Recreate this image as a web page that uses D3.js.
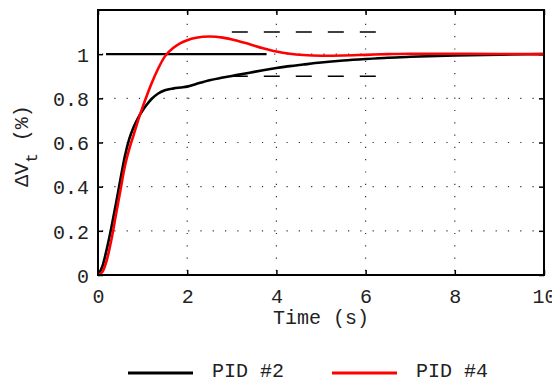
<!DOCTYPE html>
<html><head><meta charset="utf-8">
<script src="https://cdn.jsdelivr.net/npm/d3@7"></script>
<style>body{margin:0;background:#fff}svg{display:block}text{font-family:"Liberation Mono","Courier New",monospace;fill:#222}</style>
</head><body>
<svg id="c" width="552" height="381"></svg>
<script>
const time = [0,0.1,0.2,0.3,0.4,0.5,0.6,0.7,0.8,0.9,1.0,1.1,1.2,1.35,1.5,1.7,1.85,2.0,2.2,2.5,2.8,3.1,3.4,3.7,4.0,4.3,4.6,5.0,5.5,6.0,6.5,7,8,9,10];
const pid2 = [0,0.04,0.12,0.215,0.32,0.43,0.535,0.615,0.67,0.712,0.745,0.773,0.797,0.822,0.837,0.845,0.849,0.853,0.865,0.882,0.894,0.905,0.916,0.927,0.937,0.946,0.953,0.962,0.971,0.978,0.984,0.988,0.994,0.998,1.0];
const pid4 = [0,0.015,0.07,0.16,0.27,0.38,0.49,0.57,0.635,0.70,0.76,0.815,0.867,0.935,0.99,1.03,1.05,1.063,1.074,1.08,1.075,1.062,1.045,1.027,1.012,1.002,0.996,0.993,0.994,0.997,1.0,1.002,1.002,1.001,1.0];
const seriesNames = ["PID #2","PID #4"];
const seriesColors = ["#000000","#ff0000"];
const xTicks = [0,2,4,6,8,10];
const yTicks = [0,0.2,0.4,0.6,0.8,1];
const yTickLabels = ["0","0.2","0.4","0.6","0.8","1"];
const refLine = {x:[0.18,3.78], y:1};
const bandLines = {x:[3.0,6.5], y:[1.1,0.9]};

const svg = d3.select("#c");
const L=98,R=544,T=10,B=275;
const x = d3.scaleLinear().domain([0,10]).range([L,R]);
const y = d3.scaleLinear().domain([0,1.2]).range([B,T]);

// grid
const g = svg.append("g");
g.selectAll(".vg").data(xTicks.slice(1,-1)).join("line")
  .attr("x1",d=>x(d)).attr("x2",d=>x(d)).attr("y1",B-4).attr("y2",T)
  .attr("stroke","#333").attr("stroke-width",1.2).attr("stroke-dasharray","1.2,11.1");
g.selectAll(".hg").data([0.2,0.4,0.6,0.8,1]).join("line")
  .attr("x1",L+4).attr("x2",R).attr("y1",d=>y(d)).attr("y2",d=>y(d))
  .attr("stroke","#333").attr("stroke-width",1.2).attr("stroke-dasharray","1.2,11.1");

// axes ticks (inward) on all four sides
const ax = svg.append("g");
const xb = d3.axisBottom(x).tickValues(xTicks).tickSize(-5).tickPadding(14).tickFormat(d3.format("d"));
ax.append("g").attr("transform",`translate(0,${B})`).call(xb);
const xt = d3.axisTop(x).tickValues(xTicks).tickSize(-5).tickFormat("");
ax.append("g").attr("transform",`translate(0,${T})`).call(xt);
const yl = d3.axisLeft(y).tickValues(yTicks).tickSize(-5).tickPadding(9).tickFormat((d,i)=>yTickLabels[i]);
const gy = ax.append("g").attr("transform",`translate(${L},0)`).call(yl);
const yr = d3.axisRight(y).tickValues(yTicks).tickSize(-5).tickFormat("");
ax.append("g").attr("transform",`translate(${R},0)`).call(yr);
ax.selectAll(".domain").remove();
ax.selectAll(".tick line").attr("stroke","#000").attr("stroke-width",1.5);
ax.selectAll(".tick text").attr("font-size",20).attr("font-family","Liberation Mono, monospace").attr("fill","#222");
gy.selectAll(".tick text").attr("dy","0.36em");

// reference lines
svg.append("line").attr("x1",x(refLine.x[0])).attr("x2",x(refLine.x[1]))
  .attr("y1",y(refLine.y)).attr("y2",y(refLine.y)).attr("stroke","#000").attr("stroke-width",2.2);
svg.selectAll(".band").data(bandLines.y).join("line")
  .attr("x1",x(bandLines.x[0])).attr("x2",x(bandLines.x[1]))
  .attr("y1",d=>y(d)).attr("y2",d=>y(d)).attr("stroke","#000").attr("stroke-width",1.5)
  .attr("stroke-dasharray","16,16");

// curves
const line = d3.line().x((d,i)=>x(time[i])).y(d=>y(d)).curve(d3.curveMonotoneX);
[pid2,pid4].forEach((s,k)=>{
  svg.append("path").attr("d",line(s)).attr("fill","none")
    .attr("stroke",seriesColors[k]).attr("stroke-width",2.6);
});

// frame
svg.append("rect").attr("x",L).attr("y",T).attr("width",R-L).attr("height",B-T)
  .attr("fill","none").attr("stroke","#000").attr("stroke-width",2);

// axis titles
svg.append("text").attr("x",(L+R)/2).attr("y",324).attr("text-anchor","middle")
  .attr("font-size",20).text("Time (s)");
const yt = svg.append("text").attr("transform","translate(28,146) rotate(-90)")
  .attr("text-anchor","middle").attr("font-size",20);
yt.append("tspan").text("\u0394V");
yt.append("tspan").attr("font-size",16).attr("dy",9).text("t");
yt.append("tspan").attr("dy",-9).text(" (%)");

// legend
const leg = svg.append("g");
const lx = [128,332];
seriesNames.forEach((n,k)=>{
  leg.append("line").attr("x1",lx[k]).attr("x2",lx[k]+65).attr("y1",373).attr("y2",373)
    .attr("stroke",seriesColors[k]).attr("stroke-width",3);
  leg.append("text").attr("x",lx[k]+84).attr("y",377).attr("font-size",20).text(n);
});
</script>
</body></html>
